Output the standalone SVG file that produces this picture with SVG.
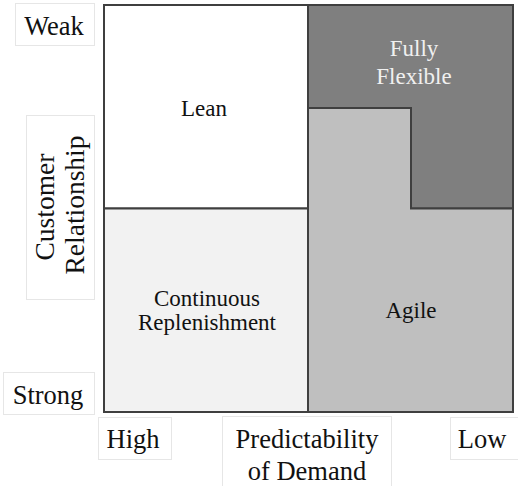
<svg xmlns="http://www.w3.org/2000/svg" width="518" height="486" viewBox="0 0 518 486">
  <style>
    .axis { font-size: 26.5px; fill: #111111; text-anchor: middle; }
    .vaxis { font-size: 27.5px; fill: #111111; text-anchor: middle; }
    .region { font-size: 23px; text-anchor: middle; fill: #111111; }
    .light { fill: #f0f0f0; }
    .lbl { fill: #ffffff; stroke: #e6e6e6; stroke-width: 1; }
    .cell { stroke: #3f3f3f; stroke-width: 2; }
  </style>
  <rect width="518" height="486" fill="#ffffff"/>

  <g style="font-family:'Liberation Serif','Times New Roman',serif">
    <!-- axis labels -->
    <g id="weak">
      <rect class="lbl" x="15.5" y="3.5" width="79" height="42"/>
      <text class="axis" x="54" y="35">Weak</text>
    </g>
    <g id="customer-relationship">
      <rect class="lbl" x="26.5" y="115.5" width="68" height="184"/>
      <text class="vaxis" transform="translate(54,207) rotate(-90)">Customer</text>
      <text class="vaxis" transform="translate(84,205) rotate(-90)">Relationship</text>
    </g>
    <g id="strong">
      <rect class="lbl" x="3.5" y="372.5" width="91" height="42"/>
      <text class="axis" x="48" y="404">Strong</text>
    </g>
    <g id="high">
      <rect class="lbl" x="98.5" y="417.5" width="73" height="42"/>
      <text class="axis" x="133" y="448">High</text>
    </g>
    <g id="predictability">
      <rect class="lbl" x="222.5" y="416.5" width="169" height="72"/>
      <text class="axis" x="307" y="448">Predictability</text>
      <text class="axis" x="307" y="480">of Demand</text>
    </g>
    <g id="low">
      <rect class="lbl" x="450.5" y="417.5" width="70" height="42"/>
      <text class="axis" x="482" y="448">Low</text>
    </g>

    <!-- matrix cells -->
    <g id="lean">
      <rect class="cell" x="104" y="5" width="204" height="203.5" fill="#ffffff"/>
      <text class="region" x="204" y="116">Lean</text>
    </g>
    <g id="continuous-replenishment">
      <rect class="cell" x="104" y="208.5" width="204" height="203.5" fill="#f2f2f2"/>
      <text class="region" x="207" y="306">Continuous</text>
      <text class="region" x="207" y="330">Replenishment</text>
    </g>
    <g id="fully-flexible">
      <rect class="cell" x="308" y="5" width="205" height="203.5" fill="#7f7f7f"/>
      <text class="region light" x="414" y="56">Fully</text>
      <text class="region light" x="414" y="84">Flexible</text>
    </g>
    <g id="agile">
      <path class="cell" d="M308,108 H411 V208.5 H513 V412 H308 Z" fill="#bfbfbf"/>
      <text class="region" x="411" y="318">Agile</text>
    </g>
  </g>
</svg>
